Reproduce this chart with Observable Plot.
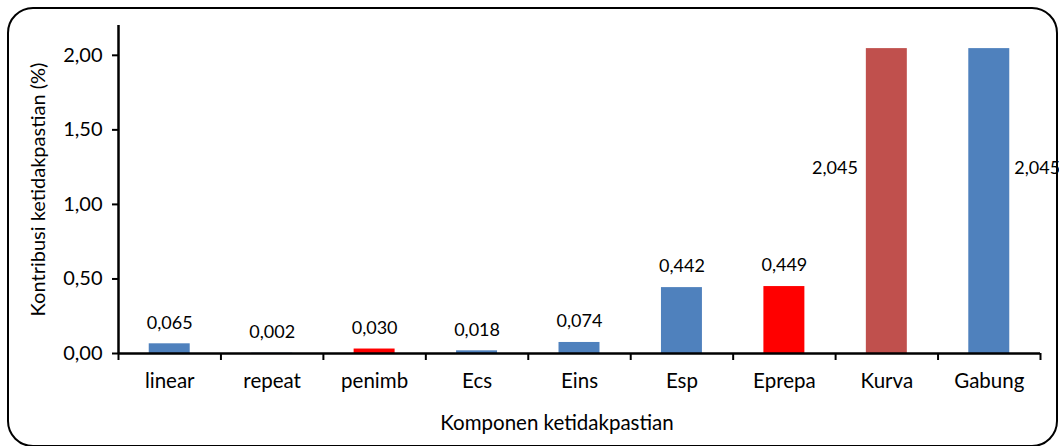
<!DOCTYPE html>
<html>
<head>
<meta charset="utf-8">
<script src="https://cdn.jsdelivr.net/npm/d3@7"></script>
<script src="https://cdn.jsdelivr.net/npm/@observablehq/plot@0.6"></script>
<style>
  html, body { margin: 0; padding: 0; background: #fff; }
  #wrap { position: relative; width: 1059px; height: 446px; overflow: hidden; font-family: Lato, "Open Sans", sans-serif; }
  #frame { position: absolute; left: 7px; top: 7px; width: 1047px; height: 436px; border: 2.5px solid #000; border-radius: 26px; }
  #chart { position: absolute; left: 0; top: 0; }
  #xlabel { position: absolute; top: 410px; left: 557px; transform: translateX(-50%); font-size: 20.5px; color: #000; white-space: nowrap; }
</style>
</head>
<body>
<div id="wrap">
  <div id="frame"></div>
  <div id="chart"></div>
  <div id="xlabel">Komponen ketidakpastian</div>
</div>
<script>
const categories = ["linear", "repeat", "penimb", "Ecs", "Eins", "Esp", "Eprepa", "Kurva", "Gabung"];
const values = [0.065, 0.002, 0.030, 0.018, 0.074, 0.442, 0.449, 2.045, 2.045];
const colors = ["#4F81BD", "#4F81BD", "#FF0000", "#4F81BD", "#4F81BD", "#4F81BD", "#FF0000", "#C0504D", "#4F81BD"];
const labelTexts = ["0,065", "0,002", "0,030", "0,018", "0,074", "0,442", "0,449", "2,045", "2,045"];
const yTicks = [0, 0.5, 1.0, 1.5, 2.0];
const yTickLabels = ["0,00", "0,50", "1,00", "1,50", "2,00"];

const data = categories.map((c, i) => ({cat: c, i, value: values[i], color: colors[i], label: labelTexts[i]}));
const above = data.filter(d => d.value < 1);
const kurva = data.filter(d => d.cat === "Kurva");
const gabung = data.filter(d => d.cat === "Gabung");

const chart = Plot.plot({
  width: 1059,
  height: 446,
  marginLeft: 118,
  marginRight: 19,
  marginTop: 25,
  marginBottom: 93,
  style: {fontFamily: "Lato, 'Open Sans', sans-serif", background: "transparent", color: "#000"},
  x: {domain: [0, categories.length]},
  y: {domain: [0, 2.2]},
  marks: [
    Plot.rectY(data, {x1: d => d.i + 0.3, x2: d => d.i + 0.7, y1: 0, y2: "value", fill: d => d.color}),
    Plot.axisY({ticks: yTicks, tickFormat: (v) => yTickLabels[yTicks.indexOf(v)], tickSize: 6, tickPadding: 10, fontSize: 20, stroke: "#000", strokeWidth: 2,
      label: "Kontribusi ketidakpastian (%)", labelAnchor: "center", labelArrow: "none", labelOffset: 88, fontSize: 20}),
    Plot.axisX({ticks: d3.range(0, categories.length + 1), tickSize: 7, tickFormat: () => "", stroke: "#000", strokeWidth: 2, label: null}),
    Plot.axisX({ticks: categories.map((c, i) => i + 0.5), tickSize: 0, tickPadding: 20, fontSize: 20.5, tickFormat: v => categories[Math.round(v - 0.5)], label: null}),
    Plot.ruleX([0], {y1: 0, y2: 2.2, stroke: "#000", strokeWidth: 2.5}),
    Plot.ruleY([0], {stroke: "#000", strokeWidth: 2.5}),
    Plot.text(above, {x: d => d.i + 0.5, y: "value", text: "label", dy: -21, fontSize: 18, fill: "#000"}),
    Plot.text(kurva, {x: d => d.i + 0.5, y: "value", text: "label", dy: 120, dx: -29, textAnchor: "end", fontSize: 18, fill: "#000"}),
    Plot.text(gabung, {x: d => d.i + 0.5, y: "value", text: "label", dy: 120, dx: 25, textAnchor: "start", fontSize: 18, fill: "#000"})
  ]
});
document.getElementById("chart").appendChild(chart);
</script>
</body>
</html>
